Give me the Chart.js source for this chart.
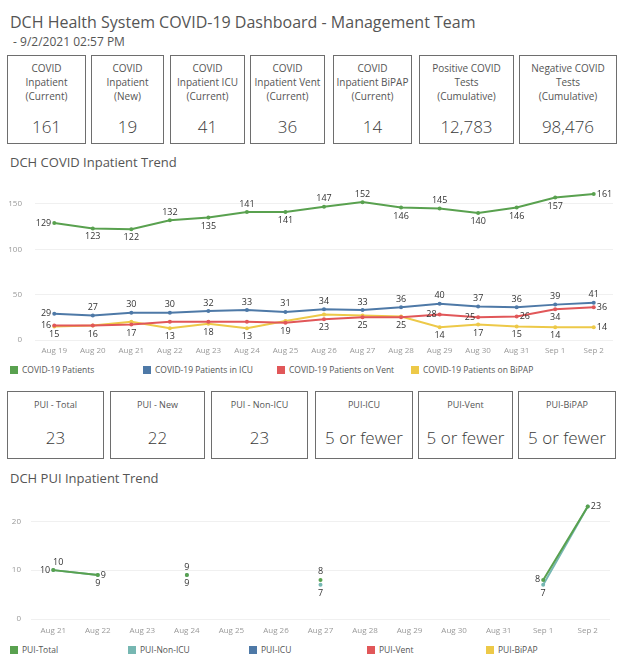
<!DOCTYPE html>
<html>
<head>
<meta charset="utf-8">
<script src="https://cdn.jsdelivr.net/npm/chart.js@4"></script>
<style>
  html, body { margin: 0; padding: 0; background: #fff; }
  body { width: 624px; height: 663px; position: relative; overflow: hidden; font-family: "Open Sans", "Noto Sans", sans-serif; color: #555; }
  .abs { position: absolute; }
  .title { left: 10px; top: 11px; font-size: 16px; color: #555; white-space: nowrap; }
  .sub { left: 10px; top: 33px; font-size: 12px; color: #555; white-space: nowrap; }
  .ctitle { left: 10px; font-size: 13px; color: #555; white-space: nowrap; }
  .box { position: absolute; border: 1px solid #6e6e6e; box-sizing: border-box; text-align: center; }
  .box .lab { position: absolute; left: 0; right: 0; font-size: 10px; line-height: 14px; color: #555; }
  .box .num { position: absolute; left: 0; right: 0; font-size: 17px; line-height: 24px; color: #3a3a3a; font-weight: 300; }
  .box2 .lab { font-size: 9px; }
  .leg { position: absolute; font-size: 8.5px; color: #555; white-space: nowrap; line-height: 10px; }
  .leg i { display: inline-block; width: 8px; height: 8px; vertical-align: -1px; margin-right: 4px; }
  canvas { position: absolute; left: 0; }
</style>
</head>
<body>
<div class="abs title">DCH Health System COVID-19 Dashboard - Management Team</div>
<div class="abs sub">&nbsp;- 9/2/2021 02:57 PM</div>
<div id="kpi1"></div>
<div class="abs ctitle" style="top:153px">DCH COVID Inpatient Trend</div>
<canvas id="c1" width="624" height="192" style="top:168px;width:624px;height:192px"></canvas>
<div id="leg1"></div>
<div id="kpi2"></div>
<div class="abs ctitle" style="top:469px">DCH PUI Inpatient Trend</div>
<canvas id="c2" width="624" height="158" style="top:482px;width:624px;height:158px"></canvas>
<div id="leg2"></div>
<script>
// ---------- data ----------
const kpiLabels1 = [["COVID","Inpatient","(Current)"],["COVID","Inpatient","(New)"],["COVID","Inpatient ICU","(Current)"],["COVID","Inpatient Vent","(Current)"],["COVID","Inpatient BiPAP","(Current)"],["Positive COVID","Tests","(Cumulative)"],["Negative COVID","Tests","(Cumulative)"]];
const kpiValues1 = ["161","19","41","36","14","12,783","98,476"];
const kpiLabels2 = ["PUI - Total","PUI - New","PUI - Non-ICU","PUI-ICU","PUI-Vent","PUI-BiPAP"];
const kpiValues2 = ["23","22","23","5 or fewer","5 or fewer","5 or fewer"];

const dates1 = ["Aug 19","Aug 20","Aug 21","Aug 22","Aug 23","Aug 24","Aug 25","Aug 26","Aug 27","Aug 28","Aug 29","Aug 30","Aug 31","Sep 1","Sep 2"];
const seriesNames1 = ["COVID-19 Patients","COVID-19 Patients in ICU","COVID-19 Patients on Vent","COVID-19 Patients on BiPAP"];
const patients = [129,123,122,132,135,141,141,147,152,146,145,140,146,157,161];
const icu      = [29,27,30,30,32,33,31,34,33,36,40,37,36,39,41];
const vent     = [16,16,17,20,20,20,19,23,25,25,28,25,26,34,36];
const bipap    = [15,16,20,13,18,13,21,28,27,26,14,17,15,14,14];
const yTicks1  = [0,50,100,150];

const dates2 = ["Aug 21","Aug 22","Aug 23","Aug 24","Aug 25","Aug 26","Aug 27","Aug 28","Aug 29","Aug 30","Aug 31","Sep 1","Sep 2"];
const seriesNames2 = ["PUI-Total","PUI-Non-ICU","PUI-ICU","PUI-Vent","PUI-BiPAP"];
const puiTotal  = [10,9,null,9,null,null,8,null,null,null,null,8,23];
const puiNonIcu = [10,9,null,9,null,null,7,null,null,null,null,7,23];
const puiIcu    = [null,null,null,null,null,null,null,null,null,null,null,null,null];
const puiVent   = [null,null,null,null,null,null,null,null,null,null,null,null,null];
const puiBipap  = [null,null,null,null,null,null,null,null,null,null,null,null,null];
const yTicks2   = [0,10,20];

// ---------- styling / layout (kept apart from the data) ----------
const colors1 = ["#59a14f","#4e79a7","#e15759","#edc948"];
const colors2 = ["#59a14f","#76b7b2","#4e79a7","#e15759","#edc948"];
const box1Left = [7,91,170,250,333,419,519], box1Right = [86,164,245,325,412,514,617];
const box2Left = [7,110,211,315,418,518],   box2Right = [104,205,308,413,513,616];
const leg1X = [10,143,277,411], leg2X = [10,128,249,367,486];
// label placement per point: a=above, ar=above-right, b=below, l=left, r=right, ''=hidden
const pos1 = [
  ['l','b','b','a','b','a','b','a','a','b','a','b','b','b','r'],
  ['l','a','a','a','a','a','a','a','a','a','a','a','a','a','a'],
  ['l','b','b','','','','b','b','b','b','l','l','r','b','r'],
  ['b','','','b','b','b','','','','','b','b','b','b','r']
];
const pos2 = [
  ['l','r','','a','','','a','','','','','l','r'],
  ['ar','b','','b','','','b','','','','','b',''],
  [],[],[]
];

// ---------- KPI boxes ----------
function buildKpi(id, labels, values, L, R, top, h, labTop, numTop, cls) {
  const host = document.getElementById(id);
  labels.forEach((lab, i) => {
    const b = document.createElement('div');
    b.className = 'box ' + cls;
    b.style.left = L[i] + 'px'; b.style.top = top + 'px';
    b.style.width = (R[i] - L[i]) + 'px'; b.style.height = h + 'px';
    const l = document.createElement('div'); l.className = 'lab'; l.style.top = labTop + 'px';
    l.innerHTML = (Array.isArray(lab) ? lab : [lab]).join('<br>');
    const n = document.createElement('div'); n.className = 'num'; n.style.top = numTop + 'px';
    n.textContent = values[i];
    b.appendChild(l); b.appendChild(n); host.appendChild(b);
  });
}
buildKpi('kpi1', kpiLabels1, kpiValues1, box1Left, box1Right, 55, 89, 5, 59, 'box1');
buildKpi('kpi2', kpiLabels2, kpiValues2, box2Left, box2Right, 391, 68, 6, 34, 'box2');

function buildLegend(id, names, cols, xs, top) {
  const host = document.getElementById(id);
  names.forEach((nm, i) => {
    const d = document.createElement('div'); d.className = 'leg';
    d.style.left = xs[i] + 'px'; d.style.top = top + 'px';
    d.innerHTML = '<i style="background:' + cols[i] + '"></i>';
    d.appendChild(document.createTextNode(nm));
    host.appendChild(d);
  });
}
buildLegend('leg1', seriesNames1, colors1, leg1X, 365);
buildLegend('leg2', seriesNames2, colors2, leg2X, 645);

// ---------- point label plugin ----------
const pointLabels = {
  id: 'pointLabels',
  afterDatasetsDraw(chart) {
    const ctx = chart.ctx;
    chart.data.datasets.forEach((ds, di) => {
      const meta = chart.getDatasetMeta(di);
      const pos = ds.labelPos || [];
      meta.data.forEach((pt, i) => {
        const v = ds.data[i], p = pos[i];
        if (v == null || !p) return;
        let x = pt.x, y = pt.y;
        ctx.save();
        ctx.font = '9px "Open Sans", sans-serif';
        ctx.fillStyle = '#333';
        ctx.textBaseline = 'middle';
        ctx.textAlign = 'center';
        if (p === 'a') y -= 8;
        else if (p === 'ar') { y -= 8; x += 5; }
        else if (p === 'b') y += 8.5;
        else if (p === 'l') { x -= 3; ctx.textAlign = 'right'; }
        else if (p === 'r') { x += 3; ctx.textAlign = 'left'; }
        ctx.fillText(String(v), x, y);
        ctx.restore();
      });
    });
  }
};

function mkDataset(label, data, color, lp) {
  return { label, data, borderColor: color, backgroundColor: color, pointBackgroundColor: color,
    pointBorderColor: color, borderWidth: 2, pointRadius: 2, pointBorderWidth: 0, pointHoverRadius: 2,
    tension: 0, spanGaps: false, labelPos: lp };
}

function mkOptions(yMax, tickVals, yWidth, yPad, xH, xPad, padTop, padRight) {
  return {
    responsive: false, animation: false, devicePixelRatio: 1,
    layout: { padding: { top: padTop, right: padRight, left: 0, bottom: 0 } },
    plugins: { legend: { display: false }, tooltip: { enabled: false } },
    scales: {
      x: { type: 'category', offset: true,
        grid: { display: false, drawTicks: false }, border: { display: false },
        ticks: { color: '#999', font: { size: 8, family: '"Open Sans", sans-serif' }, padding: xPad, maxRotation: 0, autoSkip: false },
        afterFit(s) { s.height = xH; } },
      y: { min: 0, max: yMax,
        grid: { color: '#f0f0f0', drawTicks: false }, border: { display: false },
        ticks: { color: '#999', font: { size: 8, family: '"Open Sans", sans-serif' }, padding: yPad },
        afterBuildTicks(s) { s.ticks = tickVals.map(v => ({ value: v })); },
        afterFit(s) { s.width = yWidth; } }
    }
  };
}

new Chart(document.getElementById('c1'), {
  type: 'line',
  data: { labels: dates1, datasets: [
    mkDataset(seriesNames1[0], patients, colors1[0], pos1[0]),
    mkDataset(seriesNames1[1], icu, colors1[1], pos1[1]),
    mkDataset(seriesNames1[2], vent, colors1[2], pos1[2]),
    mkDataset(seriesNames1[3], bipap, colors1[3], pos1[3])
  ]},
  options: mkOptions(170, yTicks1, 35, 13, 20, 6, 7, 11),
  plugins: [pointLabels]
});

new Chart(document.getElementById('c2'), {
  type: 'line',
  data: { labels: dates2, datasets: [
    mkDataset(seriesNames2[0], puiTotal, colors2[0], pos2[0]),
    mkDataset(seriesNames2[1], puiNonIcu, colors2[1], pos2[1]),
    mkDataset(seriesNames2[2], puiIcu, colors2[2], pos2[2]),
    mkDataset(seriesNames2[3], puiVent, colors2[3], pos2[3]),
    mkDataset(seriesNames2[4], puiBipap, colors2[4], pos2[4])
  ]},
  options: mkOptions(25, yTicks2, 31, 10, 21, 7, 6, 14),
  plugins: [pointLabels]
});
</script>
</body>
</html>
